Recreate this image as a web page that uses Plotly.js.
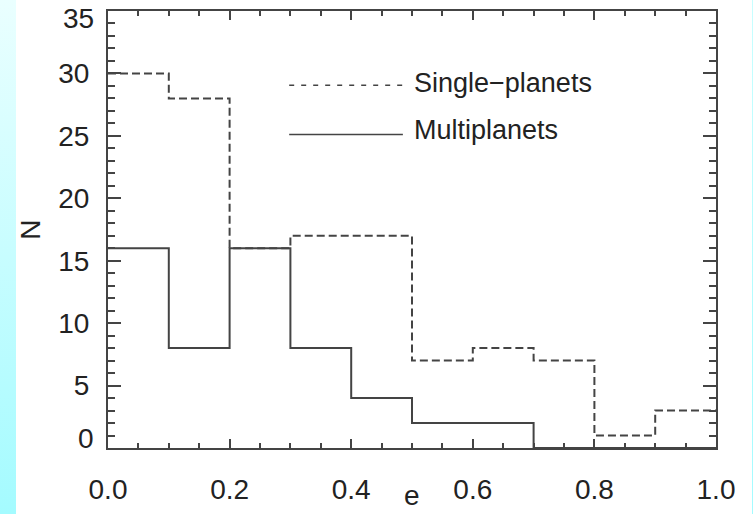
<!DOCTYPE html>
<html>
<head>
<meta charset="utf-8">
<script src="https://cdn.plot.ly/plotly-3.0.1.min.js"></script>
<style>
  html, body { margin: 0; padding: 0; background: #ffffff; }
  #wrap { position: relative; width: 753px; height: 514px; overflow: hidden; }
  #chart { position: absolute; left: 0; top: 0; width: 753px; height: 514px; }
  #stripL { position: absolute; left: 0; top: 0; width: 16px; height: 514px;
            background: linear-gradient(to bottom, #eaffff, #a4fbff); }
  #stripR { position: absolute; left: 752px; top: 0; width: 1px; height: 514px;
            background: linear-gradient(to bottom, #c8feff, #a4fbff); }
</style>
</head>
<body>
<div id="wrap">
  <div id="chart"></div>
  <div id="stripL"></div>
  <div id="stripR"></div>
</div>
<script>
// Bin edges of eccentricity e
const binEdges = [0.0, 0.1, 0.2, 0.3, 0.4, 0.5, 0.6, 0.7, 0.8, 0.9, 1.0];
// Counts per bin
const singlePlanets = [30, 28, 16, 17, 17, 7, 8, 7, 1, 3];
const multiPlanets  = [16, 8, 16, 8, 4, 2, 2, 0, 0, 0];
// Labels
const seriesNames = ["Single\u2212planets", "Multiplanets"];
const xTitle = "e";
const yTitle = "N";
const xTickVals = [0.0, 0.2, 0.4, 0.6, 0.8, 1.0];
const xTickText = ["0.0", "0.2", "0.4", "0.6", "0.8", "1.0"];
const yTickVals = [0, 5, 10, 15, 20, 25, 30, 35];
const yTickText = ["", "5", "10", "15", "20", "25", "30", ""];

const lineColor = "#444444";
const textColor = "#222222";
const fontFam = "Liberation Sans, Arial, Helvetica, sans-serif";
const fs = 28;
const fsLegend = 27;

function stepY(vals) { return vals.concat([vals[vals.length - 1]]); }

const traces = [
  {
    x: binEdges, y: stepY(singlePlanets), name: seriesNames[0],
    mode: "lines", line: { shape: "hv", color: lineColor, width: 2, dash: "8px,4px" },
    hoverinfo: "skip", cliponaxis: false
  },
  {
    x: binEdges, y: stepY(multiPlanets), name: seriesNames[1],
    mode: "lines", line: { shape: "hv", color: lineColor, width: 2 },
    hoverinfo: "skip", cliponaxis: false
  }
];

const axisCommon = {
  showline: true, linecolor: lineColor, linewidth: 2, mirror: "ticks",
  ticks: "inside", tickcolor: lineColor, tickwidth: 2,
  showgrid: false, zeroline: false, fixedrange: true,
  tickfont: { family: fontFam, size: fs, color: textColor },
  automargin: false
};

const layout = {
  width: 753, height: 514,
  margin: { l: 108, r: 37, t: 11, b: 66 },
  paper_bgcolor: "rgba(0,0,0,0)",
  plot_bgcolor: "#ffffff",
  showlegend: false,
  font: { family: fontFam, color: textColor, size: fs },
  xaxis: Object.assign({}, axisCommon, {
    range: [0, 1],
    tickmode: "array", tickvals: xTickVals, ticktext: xTickText,
    ticklen: 9, ticklabelstandoff: 15,
    minor: { dtick: 0.05, ticks: "inside", ticklen: 5, tickcolor: lineColor, tickwidth: 2, showgrid: false }
  }),
  yaxis: Object.assign({}, axisCommon, {
    range: [0, 35],
    tickmode: "array", tickvals: yTickVals, ticktext: yTickText,
    ticklen: 13, ticklabelstandoff: 11,
    minor: { dtick: 1, ticks: "inside", ticklen: 7, tickcolor: lineColor, tickwidth: 2, showgrid: false },
    title: { text: yTitle, font: { family: fontFam, size: fs, color: textColor }, standoff: 9 }
  }),
  shapes: [
    { type: "line", xref: "x", yref: "y", x0: 0.298, x1: 0.485, y0: 29.05, y1: 29.05,
      line: { color: lineColor, width: 1.5, dash: "5px,7px" } },
    { type: "line", xref: "x", yref: "y", x0: 0.298, x1: 0.485, y0: 25.1, y1: 25.1,
      line: { color: lineColor, width: 1.5 } }
  ],
  annotations: [
    { xref: "x", yref: "y", x: 0.500, y: 29.2, text: seriesNames[0], showarrow: false,
      xanchor: "left", yanchor: "middle", font: { family: fontFam, size: fsLegend, color: textColor } },
    { xref: "x", yref: "y", x: 0.500, y: 25.5, text: seriesNames[1], showarrow: false,
      xanchor: "left", yanchor: "middle", font: { family: fontFam, size: fsLegend, color: textColor } },
    { xref: "paper", yref: "y", x: 0, y: 0, yshift: 10, xshift: -12, text: "0", showarrow: false,
      xanchor: "right", yanchor: "middle", font: { family: fontFam, size: fs, color: textColor } },
    { xref: "paper", yref: "y", x: 0, y: 35, yshift: -7, xshift: -12, text: "35", showarrow: false,
      xanchor: "right", yanchor: "middle", font: { family: fontFam, size: fs, color: textColor } },
    { xref: "paper", yref: "paper", x: 0.5, y: 0, yshift: -65, text: xTitle, showarrow: false,
      xanchor: "center", yanchor: "bottom", font: { family: fontFam, size: fs, color: textColor } }
  ]
};

Plotly.newPlot("chart", traces, layout, { displayModeBar: false, staticPlot: true });
</script>
</body>
</html>
